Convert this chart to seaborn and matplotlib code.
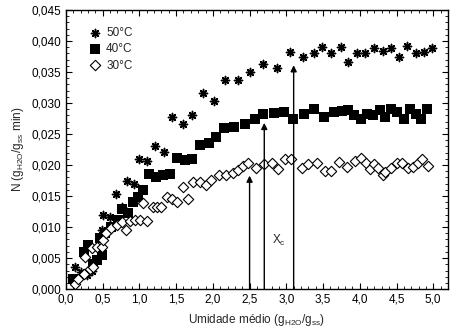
import numpy as np
import pandas as pd
import matplotlib
matplotlib.use("Agg")
import matplotlib.pyplot as plt
import seaborn as sns
from matplotlib.ticker import MultipleLocator, FuncFormatter

# ---- data ----
x50 = [0.12, 0.20, 0.28, 0.35, 0.49, 0.51, 0.60, 0.68, 0.76, 0.83, 0.92, 1.00, 1.11, 1.21, 1.33,
       1.45, 1.59, 1.72, 1.87, 2.01, 2.17, 2.34, 2.50, 2.68, 2.87, 3.05, 3.23, 3.38, 3.49, 3.61,
       3.74, 3.84, 3.96, 4.07, 4.19, 4.31, 4.43, 4.54, 4.64, 4.76, 4.87, 4.98]
y50 = [0.0035, 0.0028, 0.0022, 0.0030, 0.0095, 0.0119, 0.0117, 0.0154, 0.0133, 0.0175, 0.0170,
       0.0210, 0.0207, 0.0231, 0.0221, 0.0278, 0.0266, 0.0280, 0.0317, 0.0304, 0.0338, 0.0338,
       0.0350, 0.0363, 0.0356, 0.0382, 0.0374, 0.0380, 0.0390, 0.0380, 0.0390, 0.0367, 0.0380,
       0.0380, 0.0388, 0.0384, 0.0388, 0.0375, 0.0392, 0.0380, 0.0382, 0.0388]

x40 = [0.10, 0.24, 0.30, 0.37, 0.42, 0.49, 0.46, 0.53, 0.62, 0.71, 0.76, 0.85, 0.91, 0.98, 1.05,
       1.13, 1.22, 1.32, 1.41, 1.51, 1.62, 1.72, 1.82, 1.95, 2.04, 2.15, 2.29, 2.44, 2.57, 2.68,
       2.83, 2.97, 3.09, 3.24, 3.38, 3.51, 3.65, 3.76, 3.84, 3.92, 4.01, 4.10, 4.18, 4.27, 4.35,
       4.43, 4.51, 4.60, 4.68, 4.76, 4.84, 4.92]
y40 = [0.0017, 0.0060, 0.0071, 0.0041, 0.0047, 0.0055, 0.0082, 0.0090, 0.0100, 0.0111, 0.0129,
       0.0122, 0.0141, 0.0149, 0.0160, 0.0185, 0.0180, 0.0184, 0.0185, 0.0212, 0.0208, 0.0210,
       0.0233, 0.0235, 0.0245, 0.0259, 0.0261, 0.0267, 0.0274, 0.0282, 0.0284, 0.0286, 0.0275,
       0.0282, 0.0291, 0.0277, 0.0286, 0.0288, 0.0289, 0.0281, 0.0275, 0.0283, 0.0281, 0.0289,
       0.0278, 0.0291, 0.0286, 0.0274, 0.0291, 0.0282, 0.0274, 0.0290]

x30 = [0.12, 0.17, 0.24, 0.26, 0.33, 0.37, 0.35, 0.42, 0.49, 0.51, 0.55, 0.62, 0.69, 0.76, 0.82,
       0.87, 0.94, 1.01, 1.10, 1.05, 1.18, 1.24, 1.29, 1.38, 1.45, 1.51, 1.66, 1.59, 1.73, 1.82,
       1.90, 1.98, 2.09, 2.18, 2.27, 2.34, 2.41, 2.48, 2.59, 2.69, 2.80, 2.89, 2.98, 3.07, 3.21,
       3.30, 3.42, 3.52, 3.61, 3.72, 3.82, 3.93, 4.02, 4.08, 4.14, 4.20, 4.25, 4.31, 4.35, 4.43,
       4.50, 4.58, 4.66, 4.73, 4.79, 4.85, 4.93]
y30 = [0.0009, 0.0017, 0.0025, 0.0052, 0.0033, 0.0036, 0.0066, 0.0068, 0.0068, 0.0079, 0.0090,
       0.0098, 0.0103, 0.0109, 0.0095, 0.0110, 0.0112, 0.0112, 0.0110, 0.0139, 0.0132, 0.0132,
       0.0132, 0.0149, 0.0145, 0.0141, 0.0145, 0.0165, 0.0173, 0.0173, 0.0168, 0.0176, 0.0184,
       0.0184, 0.0188, 0.0192, 0.0198, 0.0203, 0.0196, 0.0202, 0.0204, 0.0193, 0.0209, 0.0209,
       0.0196, 0.0202, 0.0204, 0.0191, 0.0191, 0.0205, 0.0197, 0.0207, 0.0211, 0.0204, 0.0193,
       0.0202, 0.0195, 0.0184, 0.0189, 0.0196, 0.0204, 0.0203, 0.0195, 0.0197, 0.0203, 0.0209,
       0.0198]

labels = ["50°C", "40°C", "30°C"]
arrow_x = [2.50, 2.70, 3.10]
arrow_top = [0.0183, 0.0268, 0.0361]

# ---- plot ----
sns.set_style("ticks")
plt.rcParams['font.family'] = ['Liberation Sans', 'DejaVu Sans']
plt.rcParams['mathtext.fontset'] = 'custom'
plt.rcParams['mathtext.rm'] = 'Liberation Sans'
plt.rcParams['mathtext.it'] = 'Liberation Sans'
plt.rcParams['font.size'] = 8.5

fig = plt.figure(figsize=(4.71, 3.35), dpi=100)
ax = fig.add_axes([0.140, 0.137, 0.811, 0.833])

df50 = pd.DataFrame({"x": x50, "y": y50})
df40 = pd.DataFrame({"x": x40, "y": y40})
df30 = pd.DataFrame({"x": x30, "y": y30})

star = (8, 2, 0)
sns.scatterplot(data=df50, x="x", y="y", ax=ax, marker=star, s=34, color="black",
                linewidth=1.1, edgecolor="black", label=labels[0], zorder=3)
sns.scatterplot(data=df40, x="x", y="y", ax=ax, marker="s", s=42, color="black",
                linewidth=0, label=labels[1], zorder=3)
sns.scatterplot(data=df30, x="x", y="y", ax=ax, marker="D", s=28, facecolor="white",
                edgecolor="black", linewidth=0.8, label=labels[2], zorder=4)

for xa, ya in zip(arrow_x, arrow_top):
    ax.annotate("", xy=(xa, ya), xytext=(xa, 0.0),
                arrowprops=dict(arrowstyle="-|>", color="black", lw=1.0,
                                mutation_scale=9, shrinkA=0, shrinkB=0), zorder=5)

ax.text(2.80, 0.0079, r"X$_\mathrm{c}$", fontsize=8.5, ha="left", va="center")

ax.set_xlim(0, 5.2)
ax.set_ylim(0, 0.045)
ax.xaxis.set_major_locator(MultipleLocator(0.5))
ax.xaxis.set_minor_locator(MultipleLocator(0.1))
ax.yaxis.set_major_locator(MultipleLocator(0.005))
ax.yaxis.set_minor_locator(MultipleLocator(0.001))
ax.xaxis.set_major_formatter(FuncFormatter(lambda v, p: f"{v:.1f}".replace(".", ",")))
ax.yaxis.set_major_formatter(FuncFormatter(lambda v, p: f"{v:.3f}".replace(".", ",")))
ax.tick_params(which="both", direction="in", top=True, right=True, colors="black",
               labelsize=8.5)
ax.tick_params(which="major", length=4, width=0.8)
ax.tick_params(which="minor", length=2, width=0.6)
for sp in ax.spines.values():
    sp.set_color("black")
    sp.set_linewidth(1.0)

ax.set_xlabel(r"Umidade médio (g$_\mathrm{H2O}$/g$_\mathrm{ss}$)", fontsize=8.5, labelpad=4)
ax.set_ylabel(r"N (g$_\mathrm{H2O}$/g$_\mathrm{ss}$ min)", fontsize=8.5, labelpad=4)

leg = ax.legend(loc="upper left", bbox_to_anchor=(0.045, 0.955), frameon=False,
                handletextpad=0.35, labelspacing=0.35, borderaxespad=0.0, fontsize=8.5,
                handlelength=1.2)

fig.savefig("out.png", dpi=100)
